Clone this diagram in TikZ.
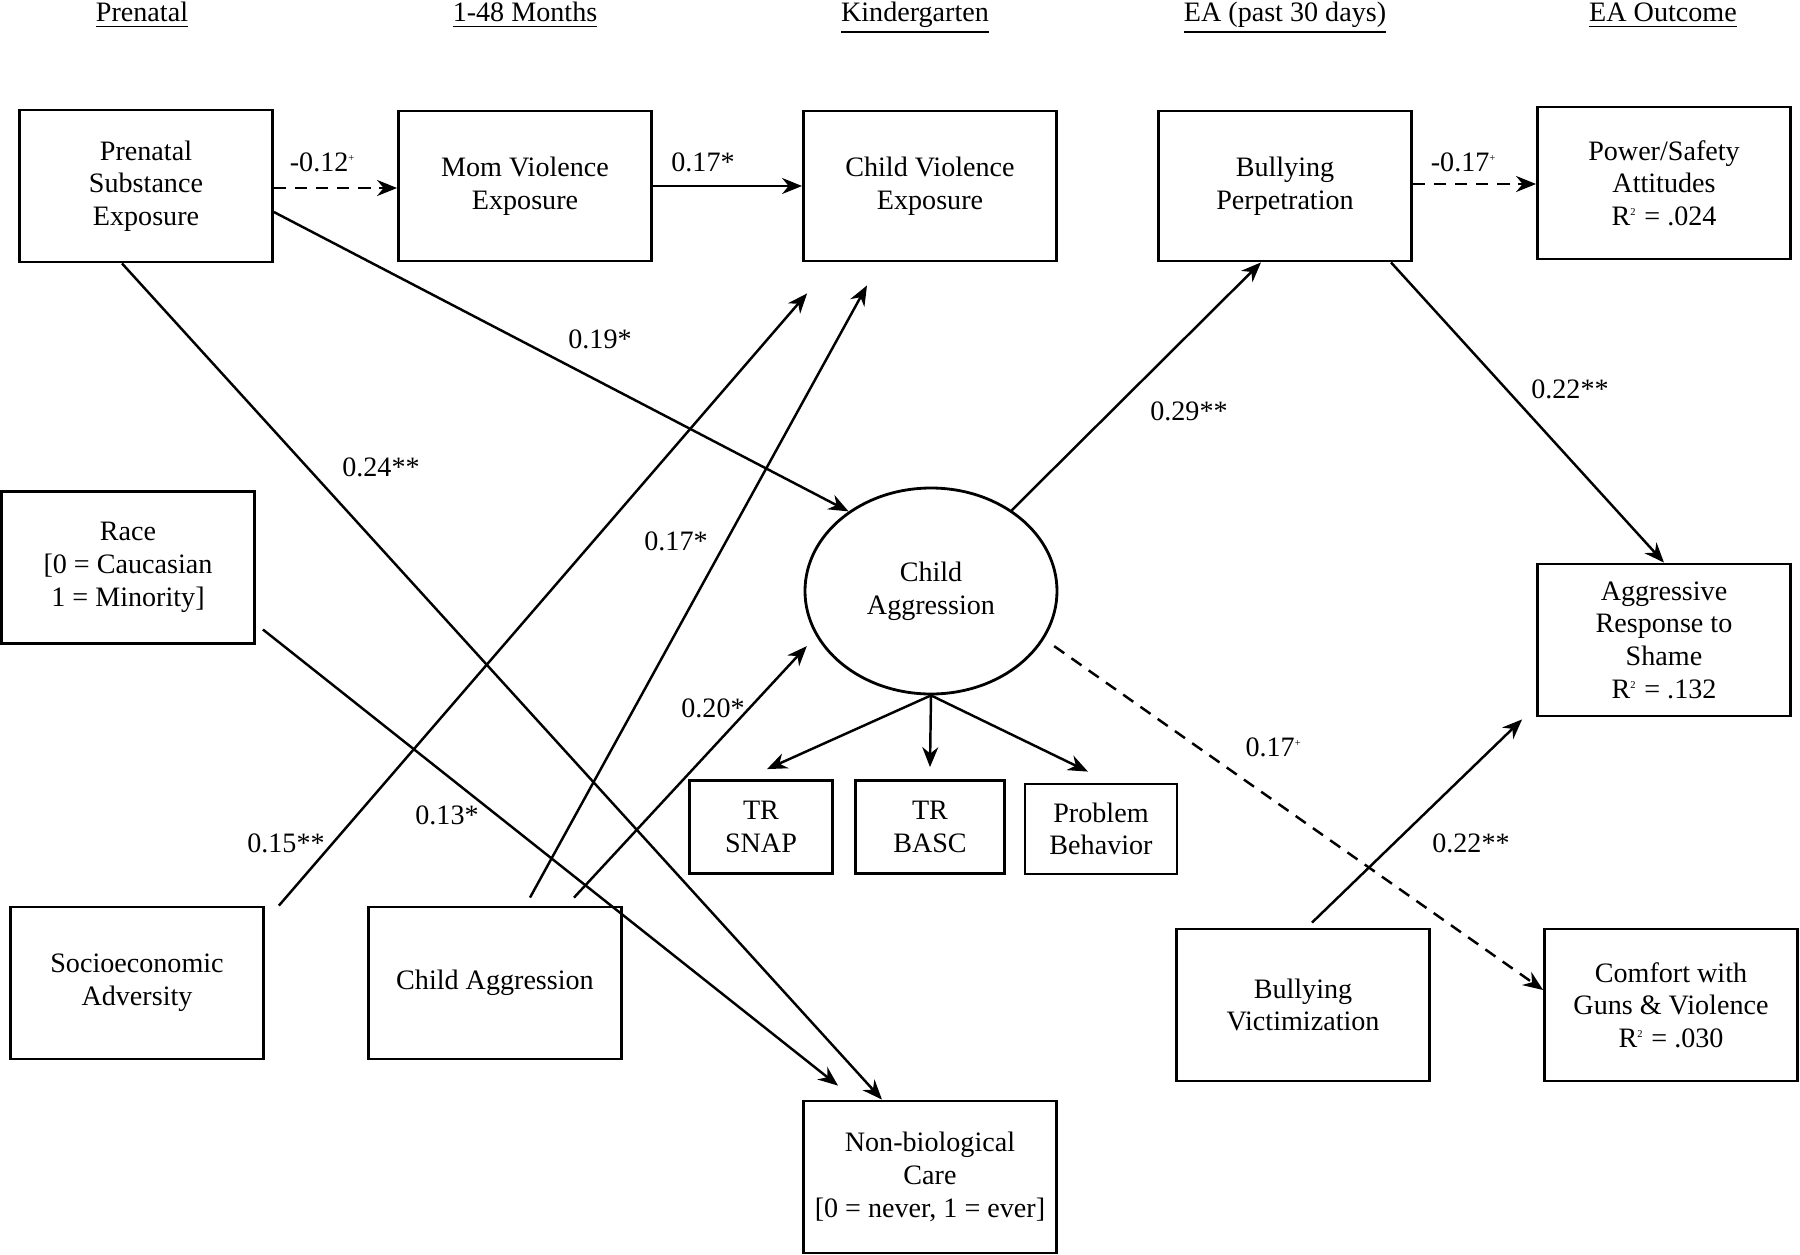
\documentclass[tikz,border=0pt]{standalone}
\usepackage{fontspec}
\setmainfont{Liberation Serif}
\usetikzlibrary{positioning, arrows.meta, shapes.geometric, calc}

\newcommand{\plusmark}{\textsuperscript{\fontsize{3}{3}\selectfont +}}
\newcommand{\rsq}{R\textsuperscript{\fontsize{3}{3}\selectfont 2}}

\begin{document}
\begin{tikzpicture}[
    y=-1cm,
    >={Stealth[length=2mm,width=1.6mm]},
    font=\fontsize{8}{9.3}\selectfont,
    box/.style={rectangle, draw=black, line width=0.8pt, minimum width=2.53cm, minimum height=1.52cm, align=center, inner sep=2pt},
    smallbox/.style={box, minimum width=1.45cm, minimum height=0.92cm},
    latent/.style={ellipse, draw=black, line width=0.8pt, minimum width=2.52cm, minimum height=2.06cm, align=center},
    header/.style={inner sep=0pt, anchor=base},
    arr/.style={->, line width=0.7pt},
    darr/.style={arr, dash pattern=on 3.5pt off 2.5pt},
    coef/.style={inner sep=1pt}
]
\useasboundingbox (0,0) rectangle (18,12.55);

% time points
\node[header] (hPrenatal) at (1.42, 0.21) {\underline{Prenatal}};
\node[header] (hMonths) at (5.25, 0.21) {\underline{1-48 Months}};
\node[header] (hKinder) at (9.15, 0.21) {\underline{Kindergarten}};
\node[header] (hPast) at (12.85, 0.21) {\underline{EA (past 30 days)}};
\node[header] (hOutcome) at (16.63, 0.21) {\underline{EA Outcome}};

\node[box] (pse) at (1.46, 1.86) {Prenatal\\Substance\\Exposure};
\node[box, minimum height=1.50cm] (mve) at (5.25, 1.86) {Mom Violence\\Exposure};
\node[box, minimum height=1.50cm] (cve) at (9.30, 1.86) {Child Violence\\Exposure};
\node[box, minimum height=1.50cm] (bp) at (12.85, 1.86) {Bullying\\Perpetration};
\node[box] (psa) at (16.64, 1.83) {Power/Safety\\Attitudes\\\rsq{} = .024};

\node[box] (race) at (1.28, 5.675) {Race\\{}[0 = Caucasian\\1 = Minority]};
\node[latent] (childAgg) at (9.31, 5.91) {Child\\Aggression};
\node[box] (ars) at (16.64, 6.40) {Aggressive\\Response to\\Shame\\\rsq{} = .132};

\node[smallbox, minimum width=1.43cm, minimum height=0.93cm] (snap) at (7.61, 8.27) {TR\\SNAP};
\node[smallbox, minimum width=1.49cm, minimum height=0.93cm] (basc) at (9.30, 8.27) {TR\\BASC};
\node[smallbox, minimum width=1.52cm, minimum height=0.90cm] (pb) at (11.01, 8.29) {Problem\\Behavior};

\node[box] (sea) at (1.37, 9.83) {Socioeconomic\\Adversity};
\node[box] (cab) at (4.95, 9.83) {Child Aggression};
\node[box] (bv) at (13.03, 10.05) {Bullying\\Victimization};
\node[box] (cgv) at (16.71, 10.05) {Comfort with\\Guns \& Violence\\\rsq{} = .030};
\node[box] (nbc) at (9.30, 11.77) {Non-biological\\Care\\{}[0 = never, 1 = ever]};

% paths
\draw[darr] ([yshift=-0.02cm]pse.east) -- ([yshift=-0.02cm]pse.east -| mve.west);
\draw[arr] (mve.east) -- (mve.east -| cve.west);
\draw[darr] ([yshift=0.02cm]bp.east) -- ([yshift=0.02cm]bp.east -| psa.west);

\draw[arr] ([yshift=-0.26cm]pse.east) -- (childAgg.136);
\draw[arr] ([xshift=-0.24cm]pse.south) -- ([xshift=-0.48cm]nbc.north);
\draw[arr] ([xshift=0.07cm,yshift=-0.62cm]race.east) -- ([xshift=-0.92cm,yshift=0.14cm]nbc.north);
\draw[arr] ([xshift=0.14cm]sea.north east) -- ([xshift=0.05cm,yshift=-0.31cm]cve.south west);
\draw[arr] ([xshift=0.35cm,yshift=0.08cm]cab.north) -- ([xshift=-0.63cm,yshift=-0.23cm]cve.south);
\draw[arr] ([xshift=0.79cm,yshift=0.08cm]cab.north) -- ([xshift=-0.16cm]childAgg.207);

\draw[arr] (childAgg.45) -- ([xshift=-0.24cm]bp.south);
\draw[darr] ([xshift=0.15cm]childAgg.-27) -- ([yshift=0.15cm]cgv.west);
\draw[arr] ([xshift=1.06cm]bp.south) -- (ars.north);
\draw[arr] ([xshift=0.09cm,yshift=0.05cm]bv.north) -- ([xshift=-0.14cm,yshift=-0.02cm]ars.south west);

\draw[arr] (childAgg.south) -- ([xshift=0.06cm,yshift=0.10cm]snap.north);
\draw[arr] (childAgg.south) -- ([yshift=0.12cm]basc.north);
\draw[arr] (childAgg.south) -- ([xshift=-0.13cm,yshift=0.11cm]pb.north);

% coefficients
\node[coef] (cPseMve) at (3.23, 1.62) {-0.12\plusmark};
\node[coef] (cMveCve) at (7.03, 1.62) {0.17*};
\node[coef] (cBpPsa) at (14.64, 1.62) {-0.17\plusmark};
\node[coef] (cPseCa) at (6.00, 3.39) {0.19*};
\node[coef] (cPseNbc) at (3.81, 4.67) {0.24**};
\node[coef] (cRaceNbc) at (4.47, 8.15) {0.13*};
\node[coef] (cSeaCve) at (2.86, 8.43) {0.15**};
\node[coef] (cCabCve) at (6.76, 5.41) {0.17*};
\node[coef] (cCabCa) at (7.13, 7.08) {0.20*};
\node[coef] (cCaBp) at (11.89, 4.11) {0.29**};
\node[coef] (cCaCgv) at (12.74, 7.47) {0.17\plusmark};
\node[coef] (cBpArs) at (15.70, 3.89) {0.22**};
\node[coef] (cBvArs) at (14.71, 8.43) {0.22**};
\end{tikzpicture}
\end{document}
